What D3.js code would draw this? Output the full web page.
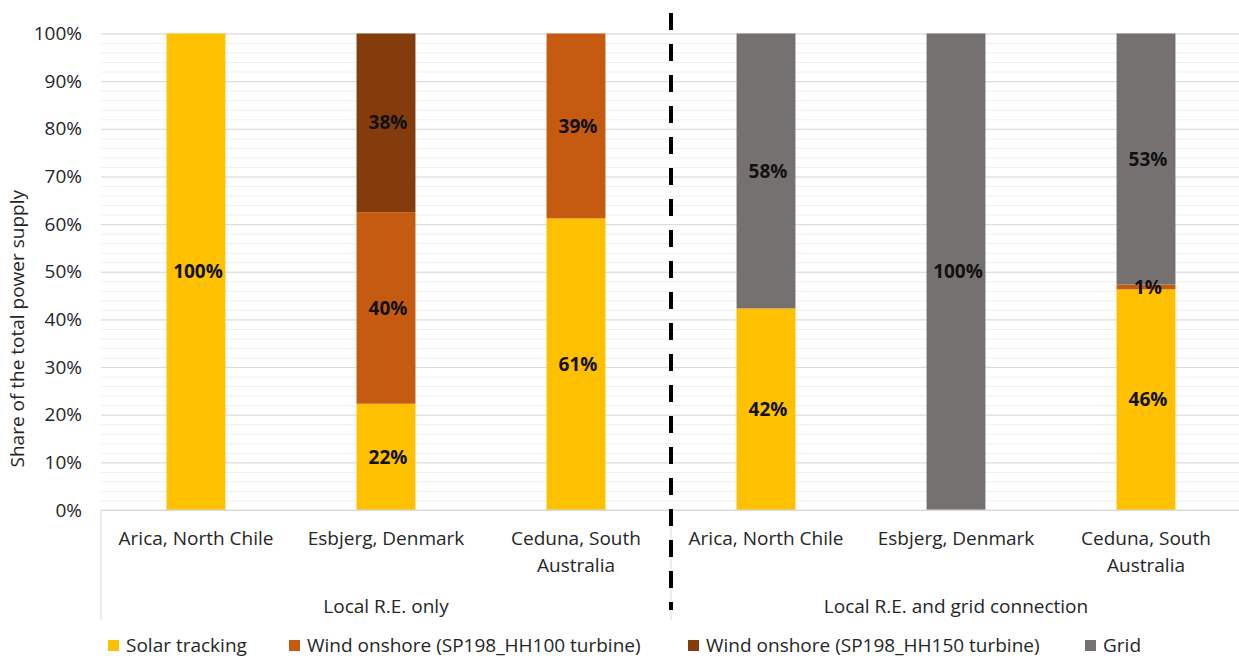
<!DOCTYPE html>
<html>
<head>
<meta charset="utf-8">
<script src="https://cdn.jsdelivr.net/npm/d3@7"></script>
<style>
  body { margin: 0; background: #fff; }
  svg { font-family: "Open Sans", "Noto Sans", sans-serif; }
</style>
</head>
<body>
<div id="container"></div>
<script>
const sites = [["Arica, North Chile"], ["Esbjerg, Denmark"], ["Ceduna, South", "Australia"]];
const groups = ["Local R.E. only", "Local R.E. and grid connection"];
const seriesNames = ["Solar tracking", "Wind onshore (SP198_HH100 turbine)", "Wind onshore (SP198_HH150 turbine)", "Grid"];
const seriesColors = ["#FFC000", "#C55A11", "#843C0C", "#767171"];
// one value per bar: 3 sites local only, then 3 sites with grid
const solar   = [100, 22.3, 61.2, 42.3, 0, 46.3];
const wind100 = [0, 40.2, 38.8, 0, 0, 1.0];
const wind150 = [0, 37.5, 0, 0, 0, 0];
const grid    = [0, 0, 0, 57.7, 100, 52.7];
const yTicks = [0, 10, 20, 30, 40, 50, 60, 70, 80, 90, 100];

const W = 1239, H = 658;
const margin = {top: 33.5, right: -2, bottom: 148, left: 101};
const width = W - margin.left - margin.right,
  height = H - margin.top - margin.bottom;
const fs = 19;

const svg = d3.select("#container")
  .append("svg")
  .attr("width", W)
  .attr("height", H);

const g = svg.append("g")
  .attr("transform", `translate(${margin.left},${margin.top})`);

const bars = [];
groups.forEach((grp, gi) => {
  sites.forEach((s, si) => bars.push({key: gi + "-" + si, group: gi, lines: s}));
});
const series = [solar, wind100, wind150, grid];
const table = bars.map((b, i) => {
  const row = {key: b.key};
  series.forEach((vals, k) => row["s" + k] = vals[i]);
  return row;
});
const keys = series.map((d, k) => "s" + k);
const stacked = d3.stack().keys(keys)(table);

const x = d3.scaleBand()
  .domain(bars.map(d => d.key))
  .range([0, width])
  .paddingInner(0.69)
  .paddingOuter(0.345);

const y = d3.scaleLinear()
  .domain([0, 100])
  .range([height, 0]);

// minor gridlines
g.append("g")
  .call(d3.axisLeft(y).tickValues(d3.range(0, 101, 2)).tickSize(-width).tickFormat(""))
  .call(a => a.select(".domain").remove())
  .call(a => a.selectAll("line").attr("stroke", "#f0f0f0"));

// major gridlines
g.append("g")
  .call(d3.axisLeft(y).tickValues(yTicks).tickSize(-width).tickFormat(""))
  .call(a => a.select(".domain").remove())
  .call(a => a.selectAll("line").attr("stroke", "#d9d9d9"));

// y axis labels
g.append("g")
  .call(d3.axisLeft(y).tickValues(yTicks).tickSize(0).tickPadding(19).tickFormat(d => d + "%"))
  .call(a => a.select(".domain").remove())
  .call(a => a.selectAll("text").attr("font-size", fs).attr("fill", "#262626")
    .attr("font-family", "'Open Sans', sans-serif"));

svg.append("text")
  .attr("transform", `translate(24,${margin.top + height / 2 + 57}) rotate(-90)`)
  .attr("text-anchor", "middle")
  .attr("font-size", fs)
  .attr("fill", "#262626")
  .text("Share of the total power supply");

// bars
stacked.forEach((layer, k) => {
  g.append("g")
    .attr("fill", seriesColors[k])
    .selectAll("rect")
    .data(layer)
    .join("rect")
    .attr("x", d => x(d.data.key))
    .attr("width", x.bandwidth())
    .attr("y", d => y(d[1]))
    .attr("height", d => y(d[0]) - y(d[1]));
});

// data labels
stacked.forEach((layer, k) => {
  g.append("g")
    .selectAll("text")
    .data(layer.filter(d => d[1] - d[0] > 0))
    .join("text")
    .attr("x", d => x(d.data.key) + x.bandwidth() / 2 + 2)
    .attr("y", d => y((d[0] + d[1]) / 2))
    .attr("dy", "0.35em")
    .attr("text-anchor", "middle")
    .attr("font-size", fs)
    .attr("font-weight", "bold")
    .attr("fill", "#111")
    .text(d => Math.round(d[1] - d[0]) + "%");
});

// category axis box
const axisG = g.append("g").attr("transform", `translate(0,${height})`);
axisG.append("line")
  .attr("x1", 0).attr("x2", width)
  .attr("stroke", "#d9d9d9");
axisG.append("line")
  .attr("x1", 0).attr("x2", 0).attr("y1", 0).attr("y2", 110)
  .attr("stroke", "#d9d9d9");
axisG.append("line")
  .attr("x1", width / 2).attr("x2", width / 2).attr("y1", 0).attr("y2", 110)
  .attr("stroke", "#d9d9d9");

const catText = axisG.selectAll("text.cat")
  .data(bars)
  .join("text")
  .attr("class", "cat")
  .attr("text-anchor", "middle")
  .attr("font-size", fs)
  .attr("fill", "#262626")
  .attr("transform", d => `translate(${x(d.key) + x.bandwidth() / 2},35)`);
catText.selectAll("tspan")
  .data(d => d.lines)
  .join("tspan")
  .attr("x", 0)
  .attr("y", (d, i) => i * 27)
  .text(d => d);

axisG.selectAll("text.grp")
  .data(groups)
  .join("text")
  .attr("class", "grp")
  .attr("text-anchor", "middle")
  .attr("font-size", fs)
  .attr("fill", "#262626")
  .attr("x", (d, i) => (i + 0.5) * width / 2)
  .attr("y", 103)
  .text(d => d);

// dashed separator between the two groups
svg.append("line")
  .attr("x1", margin.left + width / 2).attr("x2", margin.left + width / 2)
  .attr("y1", 13).attr("y2", 610)
  .attr("stroke", "#000")
  .attr("stroke-width", 4)
  .attr("stroke-dasharray", "17,14");

// legend
const legendX = [108, 289, 688, 1085];
const legend = svg.append("g")
  .selectAll("g")
  .data(seriesNames)
  .join("g")
  .attr("transform", (d, i) => `translate(${legendX[i]},645)`);
legend.append("rect")
  .attr("y", -5)
  .attr("width", 11).attr("height", 11)
  .attr("fill", (d, i) => seriesColors[i]);
legend.append("text")
  .attr("x", 18)
  .attr("dy", "0.35em")
  .attr("font-size", fs)
  .attr("fill", "#262626")
  .text(d => d);
</script>
</body>
</html>
